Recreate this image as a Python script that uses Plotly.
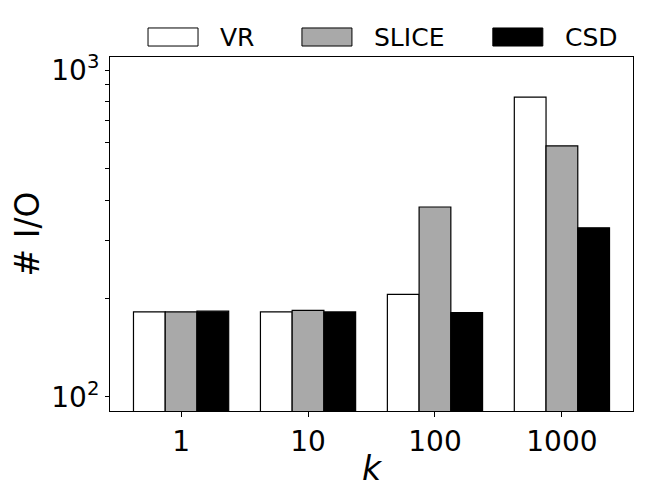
import plotly.graph_objects as go

ks = ["1", "10", "100", "1000"]
vr = [182, 182, 206, 826]
slice_io = [182, 184, 381, 586]
csd = [183, 182, 181, 329]

series = [("VR", vr, "white"), ("SLICE", slice_io, "#a9a9a9"), ("CSD", csd, "black")]

y_ticks = [100, 200, 300, 400, 500, 600, 700, 800, 900, 1000]
y_labels = ["10<sup>2</sup>", "", "", "", "", "", "", "", "", "10<sup>3</sup>"]

fig = go.Figure()
for name, vals, color in series:
    fig.add_trace(go.Bar(x=ks, y=vals, name=name, marker_color=color,
                         marker_line=dict(color="black", width=1.2),
                         showlegend=False))

# legend drawn by hand, matplotlib style (wide patches above the axes)
leg_x = [0.0727, 0.367, 0.732]
for (name, vals, color), x0 in zip(series, leg_x):
    fig.add_shape(type="rect", xref="paper", yref="paper",
                  x0=x0, x1=x0 + 0.0956, y0=1.031, y1=1.082,
                  fillcolor=color, line=dict(color="black", width=1))
    fig.add_annotation(text=name, xref="paper", yref="paper",
                       x=x0 + 0.134, y=1.056, xanchor="left", yanchor="middle",
                       showarrow=False, font=dict(size=25, color="black"))

fig.update_layout(
    width=642, height=492,
    margin=dict(l=102, r=17, t=49, b=89),
    paper_bgcolor="white", plot_bgcolor="white",
    barmode="group", bargap=0.25, bargroupgap=0,
    font=dict(family="DejaVu Sans", color="black"),
)
fig.update_xaxes(
    range=[-0.56, 3.56], showline=True, mirror=True, linecolor="black", linewidth=1,
    ticks="outside", ticklen=5, tickcolor="black", tickfont=dict(size=28),
    title=dict(text="<i>k</i>", font=dict(size=33), standoff=0),
)
fig.update_yaxes(
    type="log", range=[1.957, 3.0398],
    showline=True, mirror=True, linecolor="black", linewidth=1, showgrid=False,
    ticks="outside", ticklen=4, tickcolor="black", tickfont=dict(size=28),
    tickmode="array", tickvals=y_ticks, ticktext=y_labels,
    title=dict(text="# I/O", font=dict(size=33), standoff=8),
)

fig.write_html("out.html")
